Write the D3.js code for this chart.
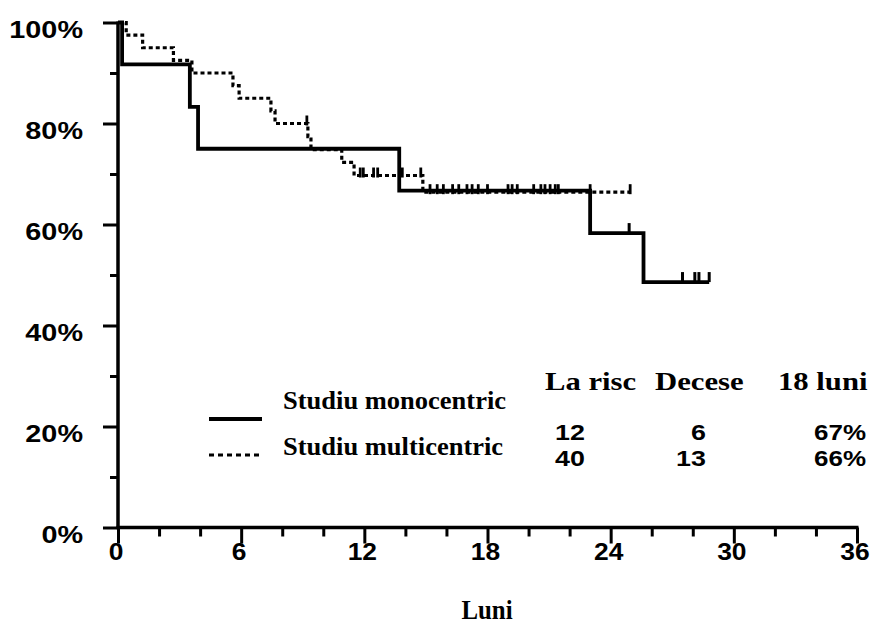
<!DOCTYPE html>
<html>
<head>
<meta charset="utf-8">
<script src="https://cdn.jsdelivr.net/npm/d3@7"></script>
<style>
  html, body { margin: 0; padding: 0; background: #fff; }
  svg { display: block; }
  .sans { font-family: "Liberation Sans", Arial, sans-serif; font-weight: bold; }
  .serif { font-family: "Liberation Serif", "Times New Roman", serif; font-weight: bold; }
</style>
</head>
<body>
<svg id="chart" width="876" height="628"></svg>
<script>
// ---- data ----
const xTickValues = [0, 6, 12, 18, 24, 30, 36];
const yTickValues = [0, 20, 40, 60, 80, 100];

// Studiu monocentric (solid): step times (months) and survival (%)
const monoTimes = [0, 0.2, 3.5, 3.9, 13.7, 23.0, 25.6, 28.8];
const monoSurv  = [100, 91.7, 83.3, 75, 66.7, 58.3, 48.6, 48.6];
const monoCensored = [24.9, 27.5, 28.1, 28.3, 28.8];

// Studiu multicentric (dotted)
const multiTimes = [0, 0.4, 1.2, 2.7, 3.6, 5.6, 5.9, 7.45, 7.65, 9.25, 9.4, 10.9, 11.5, 14.85, 24.95];
const multiSurv  = [100, 97.5, 95, 92.5, 90, 87.5, 85, 82.5, 80, 77.4, 74.8, 72.3, 69.7, 66.4, 66.4];
const multiCensored = [9.2, 11.8, 11.95, 12.45, 12.65, 13.85, 14.75,
  15.2, 15.55, 15.85, 16.3, 16.6, 17.0, 17.25, 17.55, 18.0, 19.0, 19.2, 19.45,
  20.25, 20.6, 20.8, 21.05, 21.3, 21.45, 23.0, 24.95];

const legendLabels = ["Studiu monocentric", "Studiu multicentric"];
const tableHeaders = ["La risc", "Decese", "18 luni"];
const atRisk = [12, 40];
const deaths = [6, 13];
const surv18 = ["67%", "66%"];
const xAxisTitle = "Luni";

// ---- drawing ----
const svg = d3.select("#chart");
const x = d3.scaleLinear().domain([0, 36]).range([118, 857]);
const y = d3.scaleLinear().domain([0, 100]).range([527.5, 22.5]);

// widen text horizontally like the reference
function widen(sel, f) {
  sel.each(function() {
    const w = this.getComputedTextLength();
    d3.select(this).attr("textLength", w * f).attr("lengthAdjust", "spacingAndGlyphs");
  });
  return sel;
}

const g = svg.append("g");

function stepValue(times, surv, t) {
  let v = surv[0];
  for (let i = 0; i < times.length; i++) { if (times[i] <= t) v = surv[i]; }
  return v;
}
const line = d3.line().x(d => x(d[0])).y(d => y(d[1])).curve(d3.curveStepAfter);

const multiPts = multiTimes.map((t, i) => [t, multiSurv[i]]);
const monoPts = monoTimes.map((t, i) => [t, monoSurv[i]]);

g.append("path").attr("d", line(multiPts))
  .attr("fill", "none").attr("stroke", "#000").attr("stroke-width", 3.2)
  .attr("stroke-dasharray", "4,3");

g.append("path").attr("d", line(monoPts))
  .attr("fill", "none").attr("stroke", "#000").attr("stroke-width", 3.8);

// censor marks
g.selectAll(".cm").data(multiCensored).join("line")
  .attr("x1", d => x(d)).attr("x2", d => x(d))
  .attr("y1", d => y(stepValue(multiTimes, multiSurv, d)) + 2)
  .attr("y2", d => y(stepValue(multiTimes, multiSurv, d)) - 8)
  .attr("stroke", "#000").attr("stroke-width", 2.8);
g.selectAll(".cs").data(monoCensored).join("line")
  .attr("x1", d => x(d)).attr("x2", d => x(d))
  .attr("y1", d => y(stepValue(monoTimes, monoSurv, d)))
  .attr("y2", d => y(stepValue(monoTimes, monoSurv, d)) - 10)
  .attr("stroke", "#000").attr("stroke-width", 3);

// axes
const xAxis = d3.axisBottom(x).tickValues(d3.range(0, 37, 2)).tickSize(8).tickFormat("");
const xg = svg.append("g").attr("transform", `translate(0,${y(0)})`).call(xAxis);
xg.select(".domain").remove();
xg.selectAll(".tick line").attr("stroke-width", 3)
  .attr("y2", d => xTickValues.includes(d) ? 16 : 9);
widen(svg.append("g").selectAll("text").data(xTickValues).join("text")
  .attr("class", "sans").attr("x", d => x(d) - 2).attr("y", 560)
  .attr("text-anchor", "middle").attr("font-size", 24).text(d => d), 1.1);

const yAxis = d3.axisLeft(y).tickValues(d3.range(0, 101, 10)).tickSize(8).tickFormat("");
const yg = svg.append("g").attr("transform", `translate(${x(0)},0)`).call(yAxis);
yg.select(".domain").remove();
yg.selectAll(".tick line").attr("stroke-width", 3)
  .attr("x2", d => yTickValues.includes(d) ? -15 : -8);
widen(svg.append("g").selectAll("text").data(yTickValues).join("text")
  .attr("class", "sans").attr("x", 83).attr("y", d => y(d) + 15)
  .attr("text-anchor", "end").attr("font-size", 24).text(d => d + "%"), 1.2);

// axis lines
svg.append("line").attr("x1", x(0)).attr("x2", x(0)).attr("y1", y(100) - 1).attr("y2", y(0) + 1.5)
  .attr("stroke", "#000").attr("stroke-width", 3.5);
svg.append("line").attr("x1", x(0) - 1.5).attr("x2", x(36) + 1.5).attr("y1", y(0)).attr("y2", y(0))
  .attr("stroke", "#000").attr("stroke-width", 3.5);

// axis title
widen(svg.append("text").attr("class", "serif").attr("x", 487).attr("y", 619)
  .attr("text-anchor", "middle").attr("font-size", 27).text(xAxisTitle), 0.92);

// legend
const leg = svg.append("g");
leg.append("line").attr("x1", 209).attr("x2", 262).attr("y1", 419).attr("y2", 419)
  .attr("stroke", "#000").attr("stroke-width", 4);
leg.append("line").attr("x1", 209).attr("x2", 260).attr("y1", 455).attr("y2", 455)
  .attr("stroke", "#000").attr("stroke-width", 3).attr("stroke-dasharray", "5,4");
widen(leg.selectAll(".ll").data(legendLabels).join("text")
  .attr("class", "serif").attr("x", 283).attr("y", (d, i) => i === 0 ? 409 : 455)
  .attr("font-size", 25).text(d => d), 1.06);

// table
const hdrX = [545, 655, 778];
widen(leg.selectAll(".th").data(tableHeaders).join("text")
  .attr("class", "serif").attr("x", (d, i) => hdrX[i]).attr("y", 390)
  .attr("font-size", 26).text(d => d), 1.18);
const rowY = [440, 466];
widen(leg.selectAll(".ar").data(atRisk).join("text")
  .attr("class", "sans").attr("x", 555).attr("y", (d, i) => rowY[i])
  .attr("font-size", 22).text(d => d), 1.22);
widen(leg.selectAll(".de").data(deaths).join("text")
  .attr("class", "sans").attr("x", 706).attr("y", (d, i) => rowY[i])
  .attr("text-anchor", "end").attr("font-size", 22).text(d => d), 1.22);
widen(leg.selectAll(".s18").data(surv18).join("text")
  .attr("class", "sans").attr("x", 866).attr("y", (d, i) => rowY[i])
  .attr("text-anchor", "end").attr("font-size", 22).text(d => d), 1.18);
</script>
</body>
</html>
